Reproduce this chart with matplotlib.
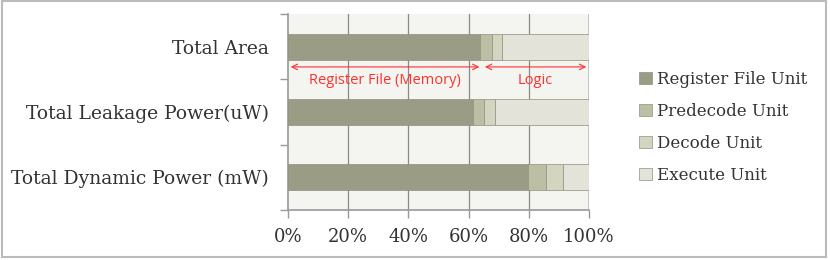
import matplotlib.pyplot as plt
import matplotlib.patches as patches
import numpy as np

categories = ['Total Area', 'Total Leakage Power(uW)', 'Total Dynamic Power (mW)']
units = ['Register File Unit', 'Predecode Unit', 'Decode Unit', 'Execute Unit']
register_file = [63.8, 61.5, 79.7]
predecode = [4.0, 3.6, 6.0]
decode = [3.3, 3.7, 5.7]
execute = [28.9, 31.2, 8.6]
x_ticks = [0, 20, 40, 60, 80, 100]
split_pct = 64.5

COLORS = ['#9a9c85', '#bdbfa5', '#d4d5c0', '#e3e3d9']
FONT = 'DejaVu Serif'

fig = plt.figure(figsize=(8.3, 2.6), dpi=100)
ax = fig.add_axes([288 / 830, 1 - 210 / 260, 301 / 830, 196 / 260])
ax.set_facecolor('#f4f4f0')

y = np.arange(len(categories))
left = np.zeros(len(categories))
for values, color, label in zip([register_file, predecode, decode, execute], COLORS, units):
    ax.barh(y, values, left=left, height=0.4, color=color, edgecolor='#8f917c',
            linewidth=0.5, label=label, zorder=3)
    left += np.array(values)

ax.set_xlim(0, 100)
ax.set_ylim(2.5, -0.5)
ax.set_xticks(x_ticks)
ax.set_xticklabels([f'{t}%' for t in x_ticks], family=FONT, fontsize=13, color='#333333')
ax.set_yticks(y)
ax.set_yticklabels(categories, family=FONT, fontsize=13.5, color='#333333')
ax.tick_params(axis='y', length=0, pad=14)
ax.set_yticks([-0.5, 0.5, 1.5, 2.5], minor=True)
ax.tick_params(axis='y', which='minor', length=6, color='#999999', width=1)
ax.tick_params(axis='x', length=6, color='#999999', width=1, pad=7)
for t in x_ticks[1:-1]:
    ax.axvline(t, color='#8a8a8a', lw=0.9, zorder=1)
ax.axvline(100, color='#c0c0c0', lw=2, zorder=1)
for side in ['top', 'right']:
    ax.spines[side].set_visible(False)
ax.spines['left'].set_color('#999999')
ax.spines['bottom'].set_color('#999999')
ax.spines['left'].set_linewidth(1.2)
ax.spines['bottom'].set_linewidth(1.2)

# memory / logic annotation
arrow_y = 0.31
ax.annotate('', xy=(0, arrow_y), xytext=(split_pct, arrow_y),
            arrowprops=dict(arrowstyle='<->', color='#ff3030', lw=0.8), zorder=4)
ax.annotate('', xy=(split_pct, arrow_y), xytext=(100, arrow_y),
            arrowprops=dict(arrowstyle='<->', color='#ff3030', lw=0.8), zorder=4)
ax.text(split_pct / 2, 0.52, 'Register File (Memory)', color='#ff3030', fontsize=10.5,
        family='Open Sans', ha='center', va='center', zorder=4)
ax.text((split_pct + 100) / 2, 0.52, 'Logic', color='#ff3030', fontsize=10.5,
        family='Open Sans', ha='center', va='center', zorder=4)

leg = fig.legend(loc='center left', bbox_to_anchor=(624 / 830, 1 - 127 / 260), frameon=False,
                 prop={'family': FONT, 'size': 12}, handlelength=0.75, handleheight=0.75,
                 handletextpad=0.3, labelspacing=0.9, labelcolor='#333333')

fig.patches.append(patches.Rectangle((0.002, 0.01), 0.993, 0.985, transform=fig.transFigure,
                                     fill=False, edgecolor='#bbbbbb', lw=1.5))

fig.savefig('out.png', dpi=100)
